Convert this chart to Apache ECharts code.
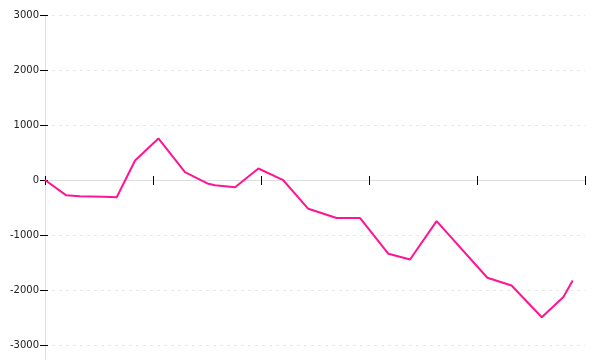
<!DOCTYPE html>
<html>
<head>
<meta charset="utf-8">
<script src="https://cdn.jsdelivr.net/npm/echarts@6/dist/echarts.min.js"></script>
<style>html,body{margin:0;padding:0;background:#fff}#c{width:600px;height:360px}</style>
</head>
<body>
<div id="c"></div>
<script>
const xValues = [0, 0.97, 1.62, 2.7, 3.32, 4.17, 5.25, 6.48, 7.56, 7.87, 8.8, 9.88, 11.03, 12.19, 13.5, 14.58, 15.9, 16.9, 18.13, 20.48, 21.6, 23.0, 24.0, 24.43];
const yValues = [0, -276, -295, -305, -313, 355, 755, 142, -69, -95, -131, 209, -4, -524, -690, -690, -1342, -1445, -749, -1778, -1918, -2495, -2127, -1827];
const yTicks = [-3000, -2000, -1000, 0, 1000, 2000, 3000];

const chart = echarts.init(document.getElementById('c'), null, {renderer: 'canvas'});
const font = {fontFamily: 'DejaVu Sans', fontSize: 10, color: '#222'};
const yMin = yTicks[0], yMax = yTicks[yTicks.length - 1];
const yStep = yTicks[1] - yTicks[0];

chart.setOption({
  animation: false,
  backgroundColor: '#fff',
  grid: [
    {left: 45, right: 15, top: 15, bottom: 15},
    {left: 45, right: 15, top: 15, bottom: 0}
  ],
  xAxis: [
    {type: 'value', gridIndex: 0, position: 'bottom', min: 0, max: 25, interval: 5,
     axisLine: {show: true, onZero: true, lineStyle: {color: '#ddd', width: 1}},
     axisTick: {show: true, inside: false, length: 5, lineStyle: {color: '#000', width: 1}},
     axisLabel: {show: false}, splitLine: {show: false}},
    {type: 'value', gridIndex: 0, position: 'bottom', min: 0, max: 25, interval: 5,
     axisLine: {show: false, onZero: true, onZeroAxisIndex: 0},
     axisTick: {show: true, inside: true, length: 4, lineStyle: {color: '#000', width: 1}},
     axisLabel: {show: false}, splitLine: {show: false}},
    {type: 'value', gridIndex: 1, min: 0, max: 1, show: false}
  ],
  yAxis: [
    {type: 'value', gridIndex: 0, position: 'left', min: yMin, max: yMax, interval: yStep,
     axisLine: {show: false},
     axisTick: {show: true, inside: false, length: 5, lineStyle: {color: '#000', width: 1}},
     axisLabel: Object.assign({margin: 6, formatter: v => String(v)}, font),
     splitLine: {show: true, lineStyle: {color: '#e8e8e8', type: [3, 4], width: 1}}},
    {type: 'value', gridIndex: 0, position: 'left', min: yMin, max: yMax, interval: yStep,
     axisLine: {show: false},
     axisTick: {show: true, inside: true, length: 3, lineStyle: {color: '#000', width: 1}},
     axisLabel: {show: false}, splitLine: {show: false}},
    {type: 'value', gridIndex: 1, position: 'left', min: 0, max: 1,
     axisLine: {show: true, lineStyle: {color: '#ddd', width: 1}},
     axisTick: {show: false}, axisLabel: {show: false}, splitLine: {show: false}}
  ],
  series: [{
    type: 'line',
    xAxisIndex: 0, yAxisIndex: 0,
    data: xValues.map((x, i) => [x, yValues[i]]),
    showSymbol: false,
    symbol: 'none',
    lineStyle: {color: '#ff1493', width: 2},
    z: 10
  }]
});
</script>
</body>
</html>
